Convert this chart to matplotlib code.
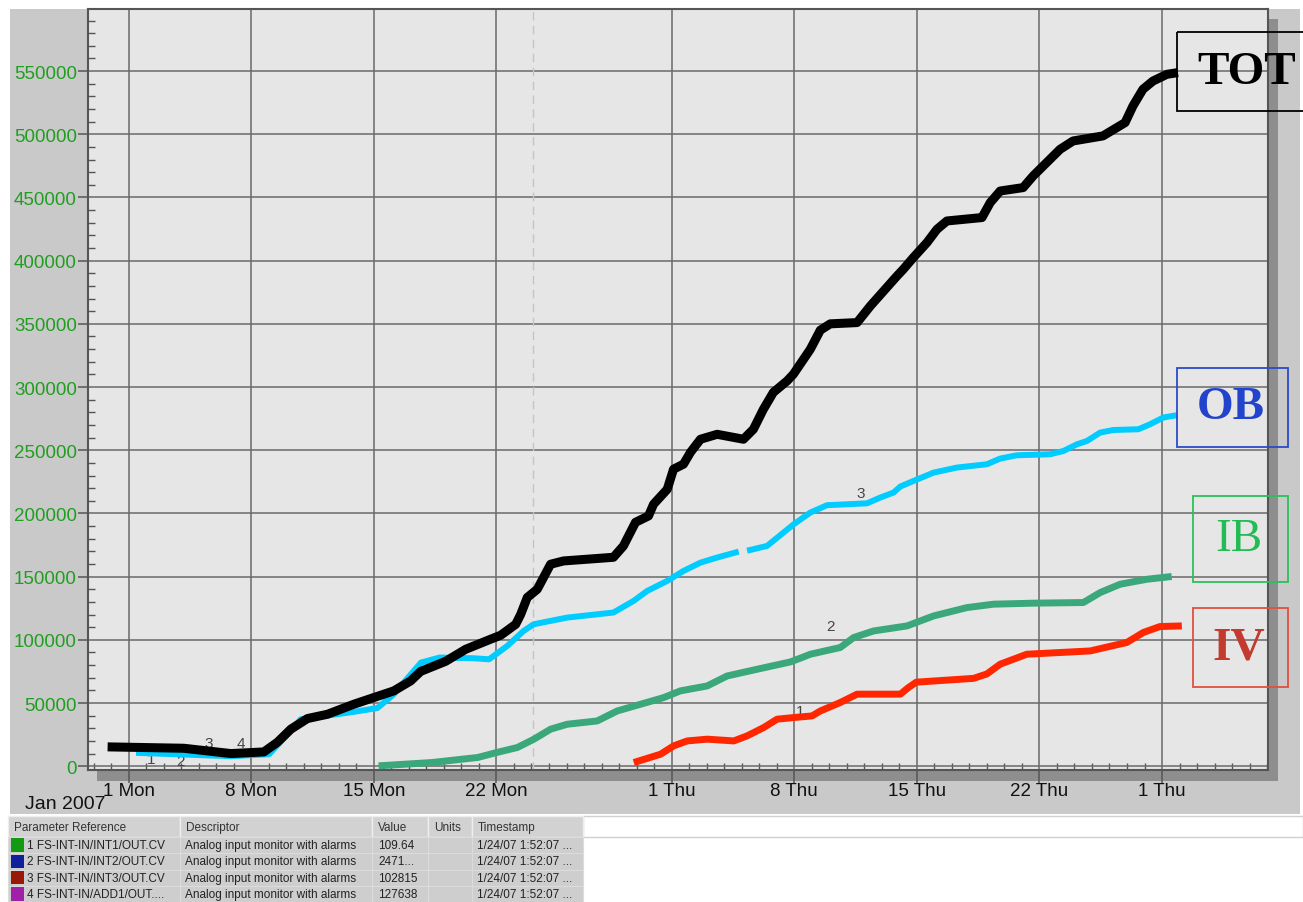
import numpy as np
import matplotlib
matplotlib.use('Agg')
import matplotlib.pyplot as plt
import matplotlib.dates as mdates
from matplotlib.patches import Rectangle

plt.rcParams['font.family'] = ['Liberation Sans', 'DejaVu Sans']

# ---- data (days since 1 Jan 2007, cumulative counts) ----
tot_days = [-1.20, 3.15, 5.84, 7.72, 8.50, 9.26, 10.21, 11.35, 12.85, 13.99, 15.14, 16.10,
            16.67, 18.10, 19.24, 20.67, 21.24, 22.10, 22.38, 22.76, 23.33, 24.09, 24.83,
            27.68, 28.25, 28.94, 29.68, 29.97, 30.75, 31.11, 31.68, 32.08, 32.65, 33.60,
            35.10, 35.67, 36.24, 36.81, 37.59, 37.95, 38.92, 39.49, 40.06, 41.59, 42.35,
            43.87, 44.23, 44.80, 45.58, 46.15, 46.72, 48.72, 49.19, 49.76, 51.07, 51.64,
            53.18, 53.92, 55.63, 56.89, 57.34, 57.91, 58.48, 59.27, 59.91]
tot_vals = [15300, 14200, 10000, 11300, 19000, 29300, 37700, 41100, 49000, 54300, 59600, 67500,
            75000, 83000, 92500, 100500, 103600, 112300, 120000, 133500, 140000, 159800, 162400,
            165300, 174300, 193000, 198000, 207300, 219100, 235000, 239000, 248400, 258700, 262600,
            258700, 266600, 282400, 295800, 304800, 310100, 329900, 345000, 350000, 351000, 364200,
            387900, 393200, 402400, 414300, 424800, 431400, 434100, 445900, 455100, 457800, 467000,
            488100, 494700, 498700, 509200, 522400, 535600, 542100, 547400, 548800]

ob_days = [0.42, 5.84, 8.02, 9.07, 9.83, 11.31, 12.85, 14.20, 15.14, 16.69, 17.76, 19.70, 20.58,
           21.62, 22.55, 23.12, 25.04, 27.68, 28.83, 29.61, 30.75, 31.68, 32.65, 33.60, 34.83,
           35.00, 35.31, 36.45, 37.97, 38.92, 39.87, 42.16, 42.92, 43.67, 44.06, 44.81, 45.96,
           47.29, 49.00, 49.76, 50.71, 52.61, 53.37, 54.14, 54.71, 55.47, 56.22, 57.65, 58.31,
           59.08, 59.84]
ob_vals = [10600, 7900, 9500, 25300, 37200, 40000, 43000, 46000, 57000, 82000, 86000, 85400, 84600,
           95200, 107000, 112300, 117600, 121600, 130800, 138700, 146600, 154500, 161100, 165100,
           169800, np.nan, 170500, 174300, 191400, 200700, 206500, 208000, 212600, 216500, 221300,
           225700, 232300, 236300, 238900, 243400, 246000, 246800, 249400, 254700, 257300, 264000,
           266000, 266600, 270500, 275900, 277700]

ib_days = [14.27, 17.30, 19.93, 21.00, 22.19, 23.14, 24.09, 25.04, 26.75, 27.89, 29.22, 30.55,
           31.50, 33.03, 34.17, 35.88, 37.78, 38.45, 38.92, 40.63, 41.39, 42.53, 44.44, 45.96,
           47.86, 49.38, 51.66, 54.51, 55.47, 56.61, 58.13, 59.55]
ib_vals = [300, 2900, 6900, 10800, 14800, 21400, 29300, 33200, 35800, 43700, 49000, 54300,
           59600, 63500, 71400, 76700, 82500, 86000, 88600, 93900, 101800, 107000, 111000, 118900,
           125500, 128200, 129000, 129500, 137400, 144000, 147900, 150100]

iv_days = [28.84, 30.37, 31.12, 31.89, 33.03, 34.55, 35.31, 36.26, 37.02, 37.97, 39.02, 39.49,
           40.63, 41.59, 44.06, 44.50, 44.97, 48.24, 49.00, 49.76, 51.28, 54.90, 56.99, 57.93,
           58.88, 60.13]
iv_vals = [2900, 9500, 16100, 20000, 21400, 20000, 24000, 30600, 37200, 38500, 39800, 43700,
           50400, 57000, 57000, 62000, 66500, 69500, 73000, 80700, 88600, 91200, 97900, 105800,
           110500, 111000]

series_names = ['TOT', 'OB', 'IB', 'IV']
series_colors = ['#000000', '#00ccff', '#3ba87b', '#ff2600']

tick_days = [0, 7, 14, 21, 31, 38, 45, 52, 59]
tick_labels = ['1 Mon', '8 Mon', '15 Mon', '22 Mon', '1 Thu', '8 Thu', '15 Thu', '22 Thu', '1 Thu']
now_day = 23.08  # timestamp 1/24/07 1:52

# trace numbers drawn on the chart
trace_marks = [('1', 1.27, 5500), ('2', 2.98, 4200), ('3', 4.58, 18700), ('4', 6.41, 18700),
               ('1', 38.35, 43700), ('2', 40.06, 111000), ('3', 41.77, 216500)]

# legend table
table_header = ['Parameter Reference', 'Descriptor', 'Value', 'Units', 'Timestamp']
param_refs = ['1 FS-INT-IN/INT1/OUT.CV', '2 FS-INT-IN/INT2/OUT.CV',
              '3 FS-INT-IN/INT3/OUT.CV', '4 FS-INT-IN/ADD1/OUT....']
descriptors = ['Analog input monitor with alarms'] * 4
value_texts = ['109.64', '2471...', '102815', '127638']
unit_texts = ['', '', '', '']
timestamps = ['1/24/07 1:52:07 ...'] * 4
swatch_colors = ['#139a13', '#10209a', '#9a1808', '#a020a8']

start = np.datetime64('2007-01-01T00:00')


def to_dates(days):
    return start + np.round(np.asarray(days, dtype=float) * 1440).astype('timedelta64[m]')


W, H = 1303, 903
fig = plt.figure(figsize=(W / 100, H / 100), dpi=100)

# background panels (pixel coords)
bg = fig.add_axes([0, 0, 1, 1], zorder=0)
bg.set_xlim(0, W)
bg.set_ylim(H, 0)
bg.axis('off')
bg.add_patch(Rectangle((10, 10), 1290, 805, fc='#c9c9c9', ec='none'))
bg.add_patch(Rectangle((97, 20), 1181, 762, fc='#8e8e8e', ec='none'))

# main plot
ax = fig.add_axes([88 / W, 1 - 771 / H, 1180 / W, 761.5 / H], zorder=1)
ax.set_facecolor('#e6e6e6')

ax.plot(to_dates(ob_days), ob_vals, color=series_colors[1], lw=4.3, solid_capstyle='butt', zorder=3)
ax.plot(to_dates(ib_days), ib_vals, color=series_colors[2], lw=5.0, solid_capstyle='butt', zorder=3)
ax.plot(to_dates(iv_days), iv_vals, color=series_colors[3], lw=5.0, solid_capstyle='butt', zorder=3)
ax.plot(to_dates(tot_days), tot_vals, color=series_colors[0], lw=6.5, solid_capstyle='butt', zorder=4)

for txt, d, v in trace_marks:
    ax.text(to_dates([d])[0], v, txt, fontsize=11, color='#444444', ha='center', va='center', zorder=2)

ax.axvline(to_dates([now_day])[0], color='#c4c4c4', lw=1, ls=(0, (6, 4)), zorder=1)

ax.set_xlim(to_dates([-2.32])[0], to_dates([65.05])[0])
ax.set_ylim(-3000, 599500)

ax.set_xticks(to_dates(tick_days))
ax.set_xticklabels(tick_labels)
ax.xaxis.set_minor_locator(mdates.DayLocator())
ax.yaxis.set_major_locator(plt.MultipleLocator(50000))
ax.yaxis.set_minor_locator(plt.MultipleLocator(10000))
ax.yaxis.set_major_formatter(plt.FuncFormatter(lambda v, p: f'{int(v)}'))

ax.grid(True, which='major', color='#6a6a6a', lw=1.1)
ax.set_axisbelow(True)
ax.tick_params(axis='x', which='major', direction='out', length=9, width=1.1, color='#555555',
               labelsize=13.5, pad=0, labelcolor='#111111')
ax.tick_params(axis='x', which='minor', direction='in', length=5, width=1, color='#555555')
ax.tick_params(axis='y', which='major', direction='out', length=7, width=1.1, color='#555555',
               labelsize=13.5, pad=1, labelcolor='#1f9e1f')
ax.tick_params(axis='y', which='minor', direction='in', length=5, width=1, color='#555555')
for s in ax.spines.values():
    s.set_color('#555555')
    s.set_linewidth(1.5)

# overlay: labels, boxes, table
ov = fig.add_axes([0, 0, 1, 1], zorder=2)
ov.set_xlim(0, W)
ov.set_ylim(H, 0)
ov.axis('off')
ov.patch.set_alpha(0)

ov.text(25, 805, 'Jan 2007', fontsize=14, color='#111111', ha='left', va='center')

box_specs = [(1177, 33, 130, 79, 'black', 'black', 'bold', 1247),
             (1177, 369, 111, 79, '#2a4bc8', '#2244cc', 'bold', 1231),
             (1193, 497, 95, 86, '#2cc05a', '#22bb55', 'normal', 1239),
             (1193, 609, 95, 79, '#e05040', '#c23b2e', 'bold', 1239)]
for i, (bx, by, bw, bh, ec, tc, weight, tx) in enumerate(box_specs):
    ov.add_patch(Rectangle((bx, by), bw, bh, fc='none', ec=ec, lw=1.3))
    ov.text(tx, by + bh / 2, series_names[i], fontsize=34, color=tc, fontweight=weight,
            family=['Liberation Serif', 'DejaVu Serif'], ha='center', va='center')

# legend table
col_x = [8, 180, 372, 428, 472, 583]
ov.add_patch(Rectangle((583, 817), 720, 21, fc='white', ec='#d0d0d0', lw=1))
for j, head in enumerate(table_header):
    ov.add_patch(Rectangle((col_x[j], 817), col_x[j + 1] - col_x[j], 21, fc='#d2d2d2', ec='#eeeeee', lw=1))
    ov.text(col_x[j] + 6, 828, head, fontsize=8.5, color='#333333', va='center')
row_h = 16.3
for r in range(4):
    y0 = 838 + r * row_h
    for j in range(5):
        ov.add_patch(Rectangle((col_x[j], y0), col_x[j + 1] - col_x[j], row_h, fc='#cecece', ec='#dcdcdc', lw=0.8))
    ov.add_patch(Rectangle((11, y0 + 1.5), 13, row_h - 3, fc=swatch_colors[r], ec='none'))
    yc = y0 + row_h / 2
    ov.text(27, yc, param_refs[r], fontsize=8.5, color='#222222', va='center')
    ov.text(185, yc, descriptors[r], fontsize=8.5, color='#222222', va='center')
    ov.text(378, yc, value_texts[r], fontsize=8.5, color='#222222', va='center')
    ov.text(432, yc, unit_texts[r], fontsize=8.5, color='#222222', va='center')
    ov.text(477, yc, timestamps[r], fontsize=8.5, color='#222222', va='center')

fig.savefig('out.png', dpi=100)
